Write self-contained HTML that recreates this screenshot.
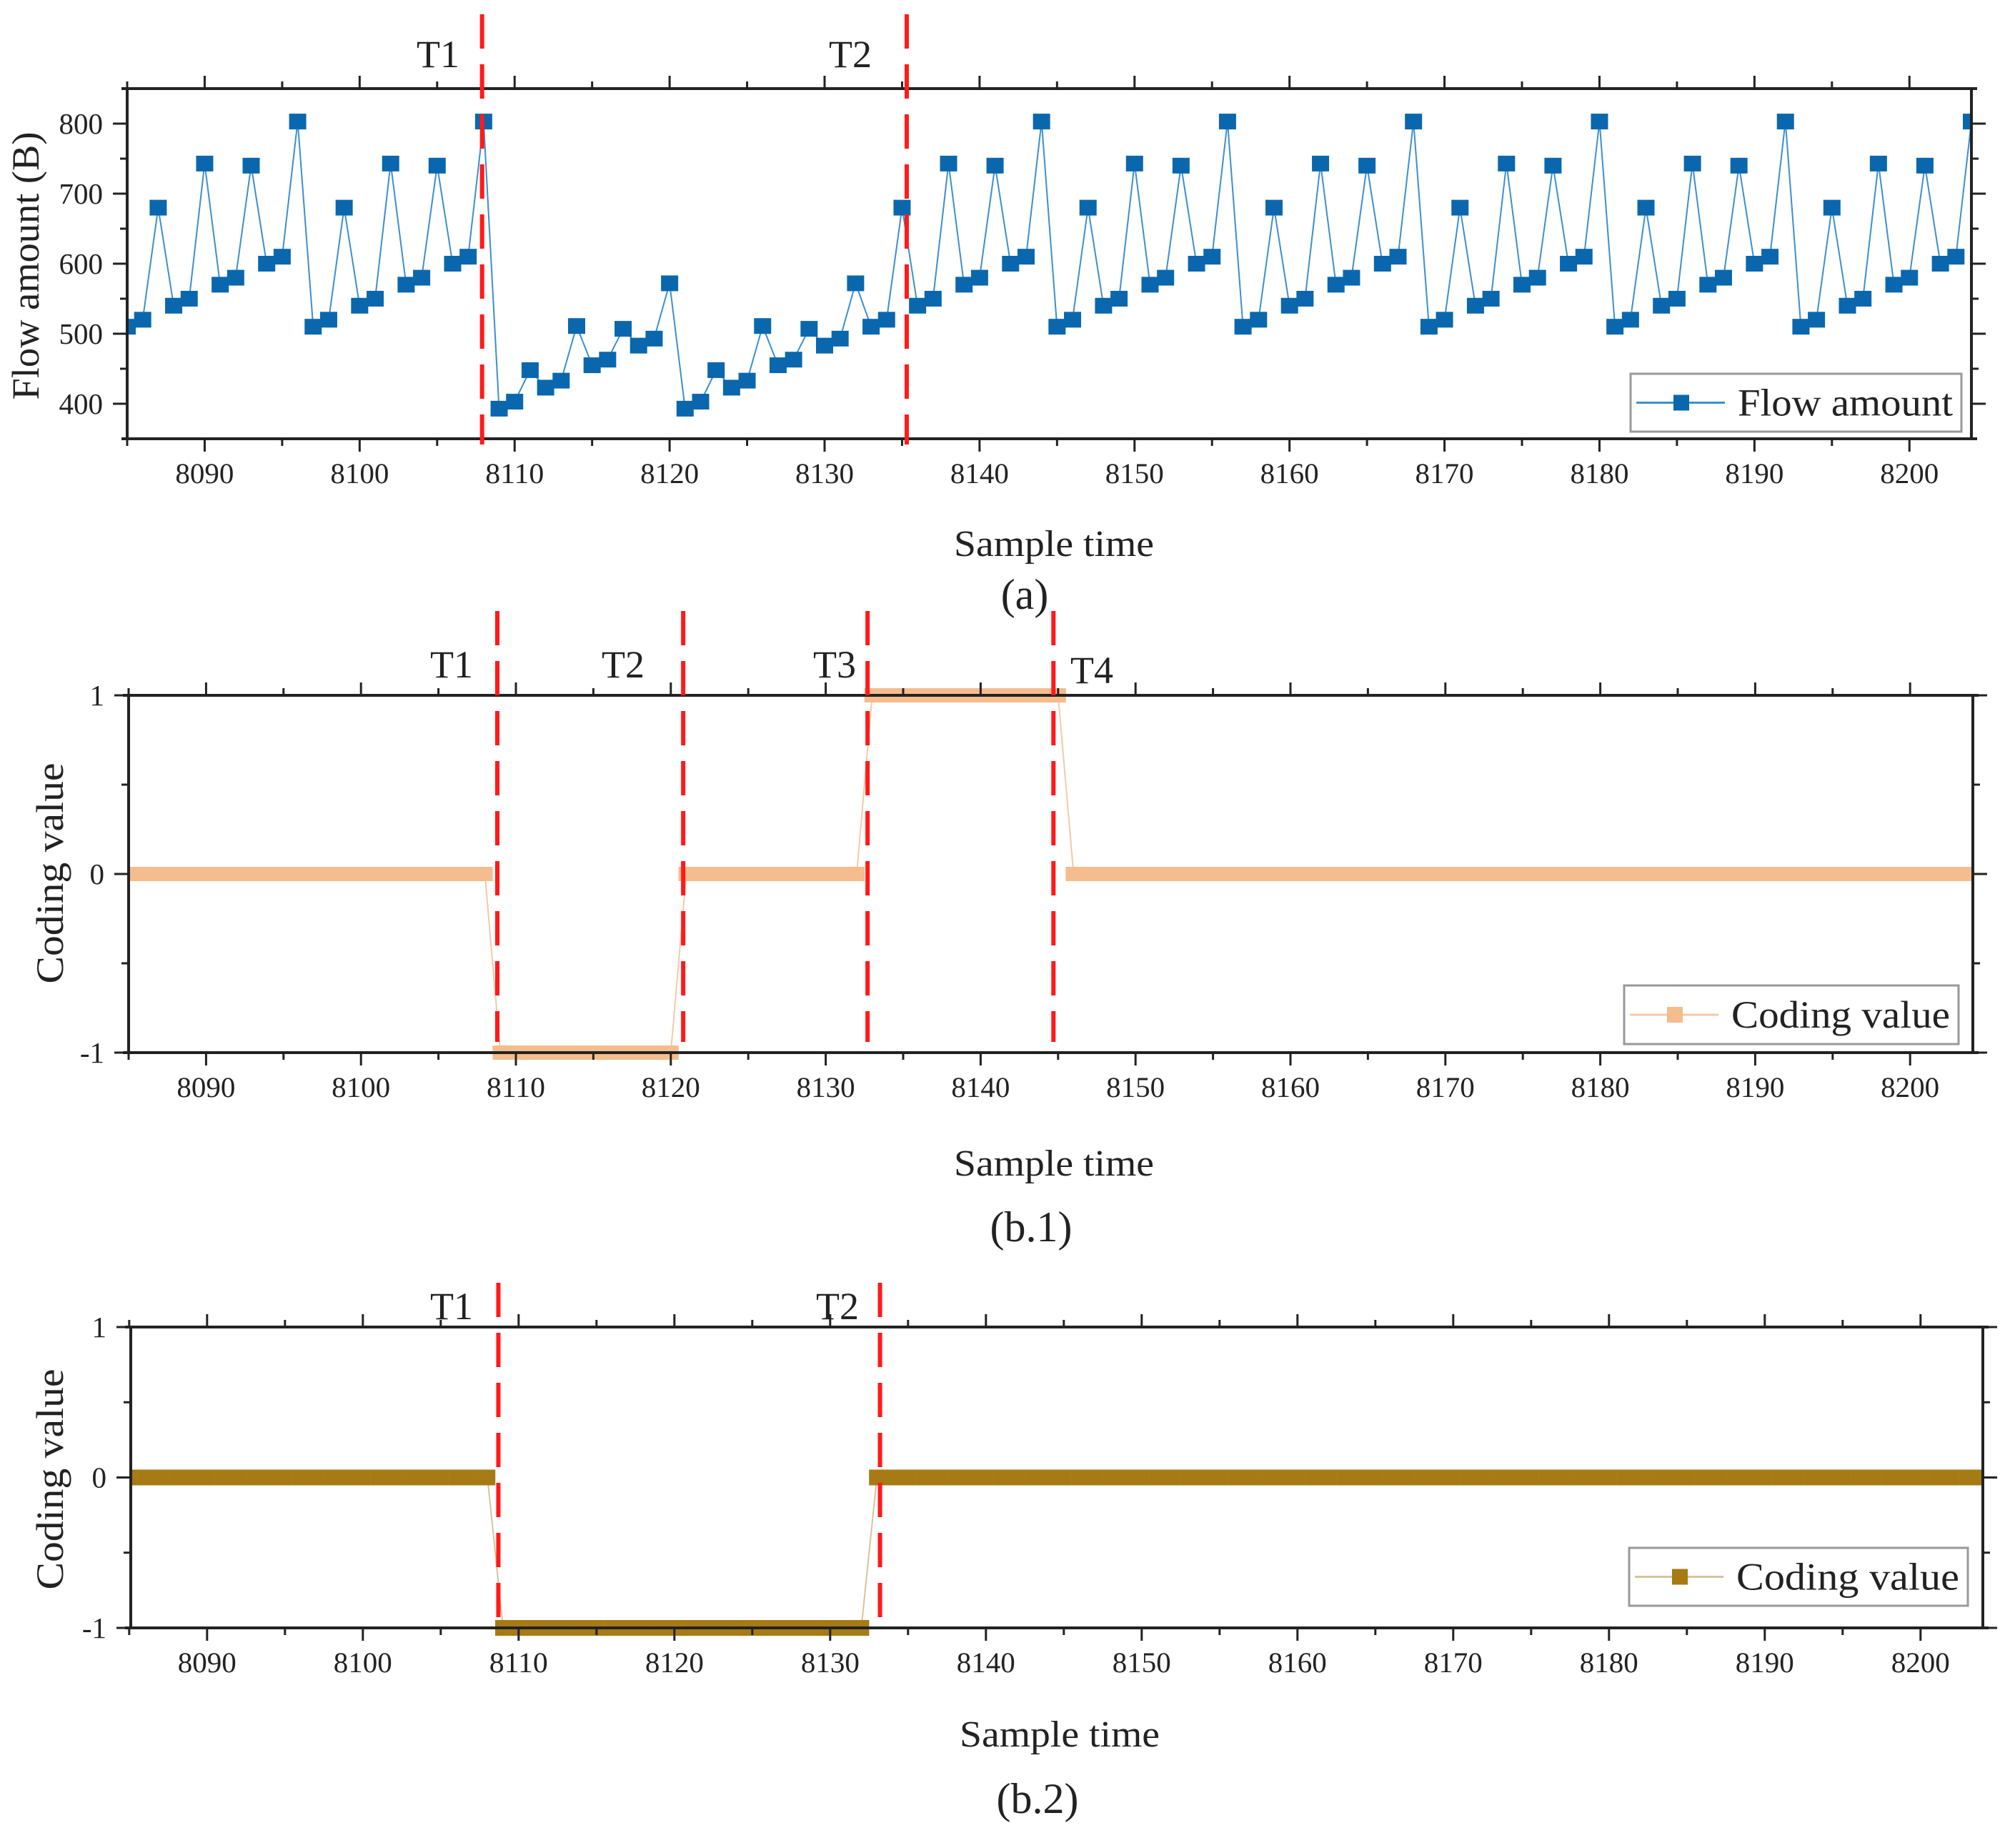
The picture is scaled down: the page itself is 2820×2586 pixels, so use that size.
<!DOCTYPE html>
<html><head><meta charset="utf-8">
<style>
html,body{margin:0;padding:0;background:#fff;}
svg{display:block;}
text{font-family:"Liberation Serif",serif;fill:#222;}
</style></head>
<body>
<svg id="fig" width="2820" height="2586" viewBox="0 0 2820 2586" xmlns="http://www.w3.org/2000/svg"></svg>
<script>
// ---------- data ----------
const xTickValues = [8090,8100,8110,8120,8130,8140,8150,8160,8170,8180,8190,8200];
const flowTime = [];
for (let t = 8085; t <= 8204; t++) flowTime.push(t);
const flowValues = [
510,520,680,540,550,743,570,580,740,600,610,803,
510,520,680,540,550,743,570,580,740,600,610,803,
393,403,448,423,433,511,455,463,507,483,493,572,
393,403,448,423,433,511,455,463,507,483,493,572,
510,520,680,540,550,743,570,580,740,600,610,803,
510,520,680,540,550,743,570,580,740,600,610,803,
510,520,680,540,550,743,570,580,740,600,610,803,
510,520,680,540,550,743,570,580,740,600,610,803,
510,520,680,540,550,743,570,580,740,600,610,803,
510,520,680,540,550,743,570,580,740,600,610,803];
const flowYTicks = [400,500,600,700,800];
const codingYTicks = [-1,0,1];
const coding1Values = [
0,0,0,0,0,0,0,0,0,0,0,0,0,0,0,0,0,0,0,0,0,0,0,0,
-1,-1,-1,-1,-1,-1,-1,-1,-1,-1,-1,-1,
0,0,0,0,0,0,0,0,0,0,0,0,
1,1,1,1,1,1,1,1,1,1,1,1,1,
0,0,0,0,0,0,0,0,0,0,0,0,0,0,0,0,0,0,0,0,0,0,0,0,0,0,0,0,0,0,
0,0,0,0,0,0,0,0,0,0,0,0,0,0,0,0,0,0,0,0,0,0,0,0,0,0,0,0,0];
const coding2Values = [
0,0,0,0,0,0,0,0,0,0,0,0,0,0,0,0,0,0,0,0,0,0,0,0,
-1,-1,-1,-1,-1,-1,-1,-1,-1,-1,-1,-1,-1,-1,-1,-1,-1,-1,-1,-1,-1,-1,-1,-1,
0,0,0,0,0,0,0,0,0,0,0,0,0,0,0,0,0,0,0,0,0,0,0,0,0,0,0,0,0,0,0,0,0,0,0,0,
0,0,0,0,0,0,0,0,0,0,0,0,0,0,0,0,0,0,0,0,0,0,0,0,0,0,0,0,0,0,0,0,0,0,0,0];
const markersA = ["T1","T2"];
const markerTimesA = [8107.9, 8135.3];
const markersB1 = ["T1","T2","T3","T4"];
const markerTimesB1 = [8108.8, 8120.8, 8132.7, 8144.7];
const markersB2 = ["T1","T2"];
const markerTimesB2 = [8108.7, 8133.2];

// ---------- drawing ----------
const NS = "http://www.w3.org/2000/svg";
const svg = document.getElementById("fig");
const defs = document.createElementNS(NS, "defs");
svg.appendChild(defs);
function mk(tag, attrs, parent, txt){
  const e = document.createElementNS(NS, tag);
  for (const k in attrs) e.setAttribute(k, attrs[k]);
  if (txt !== undefined) e.textContent = txt;
  (parent||svg).appendChild(e);
  return e;
}

function panel(cfg){
  const g = mk("g", {});
  
  
  const X = v => cfg.L + (v - cfg.xmin) / (cfg.xmax - cfg.xmin) * (cfg.R - cfg.L);
  const Y = v => cfg.B - (v - cfg.ymin) / (cfg.ymax - cfg.ymin) * (cfg.B - cfg.T);
  const cid = "clip-" + cfg.name;
  const cp = mk("clipPath",{id:cid},defs);
  mk("rect",{x:cfg.L,y:cfg.T-30,width:cfg.R-cfg.L,height:cfg.B-cfg.T+60},cp);
  const sg = mk("g",{"clip-path":`url(#${cid})`},g);
  
  
  const pts = cfg.values.map((v,i)=>X(flowTime[i]).toFixed(1)+","+Y(v).toFixed(1)).join(" ");
  const line = mk("polyline",{points:pts,fill:"none",stroke:cfg.lineColor,"stroke-width":2},sg);
  
  
  cfg.values.forEach((v,i)=>{
    const r = mk("rect",{x:X(flowTime[i])-cfg.mw/2,y:Y(v)-cfg.mh/2,width:cfg.mw,height:cfg.mh,fill:cfg.markColor},sg);
    
    
  });
  const ax = mk("g", {stroke:"#222","stroke-width":4,fill:"none"}, g);
  
  
  mk("line",{x1:cfg.L-8,y1:cfg.T,x2:cfg.R+8,y2:cfg.T},ax);
  mk("line",{x1:cfg.L-8,y1:cfg.B,x2:cfg.R+8,y2:cfg.B},ax);
  mk("line",{x1:cfg.L,y1:cfg.T,x2:cfg.L,y2:cfg.B},ax);
  mk("line",{x1:cfg.R,y1:cfg.T,x2:cfg.R,y2:cfg.B},ax);
  for (let v = 8085; v <= cfg.xmax; v += 5){
    const x = X(v), major = (v % 10 === 0), len = major ? 18 : 10;
    mk("line",{x1:x,y1:cfg.B,x2:x,y2:cfg.B+len,stroke:"#222","stroke-width":3},g);
    mk("line",{x1:x,y1:cfg.T,x2:x,y2:cfg.T-len,stroke:"#222","stroke-width":3},g);
  }
  xTickValues.forEach(v=>{
    const t = mk("text",{x:X(v),y:cfg.B+62,"text-anchor":"middle","font-size":40,textLength:82,lengthAdjust:"spacingAndGlyphs"},g,String(v));
    
    
  });
  const yt = cfg.yTicks;
  const step = yt[1]-yt[0];
  for (let v = yt[0]; v <= yt[yt.length-1] + 1e-9; v += step/2){
    const y = Y(v);
    const major = yt.some(t=>Math.abs(t-v)<1e-9);
    const len = major ? 20 : 10;
    mk("line",{x1:cfg.L,y1:y,x2:cfg.L-len,y2:y,stroke:"#222","stroke-width":3},g);
    mk("line",{x1:cfg.R,y1:y,x2:cfg.R+len,y2:y,stroke:"#222","stroke-width":3},g);
  }
  yt.forEach(v=>{
    const t = mk("text",{x:cfg.L-34,y:Y(v)+14,"text-anchor":"end","font-size":41},g,String(v));
    
    
  });
  cfg.evTimes.forEach((tv,i)=>{
    const x = X(tv);
    const l = mk("line",{x1:x,y1:cfg.evTop,x2:x,y2:cfg.evBot,stroke:"#ff1a1a","stroke-width":6,"stroke-dasharray":"48 22"},g);
    
    
    const lx = cfg.evLabelPos[i];
    const t = mk("text",{x:lx[0],y:lx[1],"text-anchor":lx[2]||"middle","font-size":54},g,cfg.evLabels[i]);
    
    
  });
  const lg = mk("g",{},g);
  
  
  const [lx0,ly0,lx1,ly1] = cfg.legend;
  mk("rect",{x:lx0,y:ly0,width:lx1-lx0,height:ly1-ly0,fill:"#fff",stroke:"#999","stroke-width":3},lg);
  const cy = (ly0+ly1)/2;
  mk("line",{x1:lx0+8,y1:cy,x2:lx0+132,y2:cy,stroke:cfg.lineColor,"stroke-width":3},lg);
  mk("rect",{x:lx0+60,y:cy-11,width:22,height:22,fill:cfg.markColor},lg);
  const lt = mk("text",{x:lx0+150,y:cy+18,"font-size":54,textLength:lx1-lx0-162,lengthAdjust:"spacingAndGlyphs"},lg,cfg.legendText);
  
  
  const yt2 = mk("text",{x:0,y:0,"text-anchor":"middle","font-size":54,transform:`translate(${cfg.yTitleX},${cfg.yTitleY}) rotate(-90)`,textLength:cfg.yTitleLen,lengthAdjust:"spacingAndGlyphs"},g,cfg.yTitle);
  
  
  const xt = mk("text",{x:cfg.xTitlePos[0],y:cfg.xTitlePos[1],"text-anchor":"middle","font-size":52,textLength:280,lengthAdjust:"spacingAndGlyphs"},g,"Sample time");
  
  
  const cap = mk("text",{x:cfg.capPos[0],y:cfg.capPos[1],"text-anchor":"middle","font-size":60},g,cfg.caption);
  
  
}

panel({name:"panel-a-flow", L:178,R:2759,T:124,B:614,xmin:8085,xmax:8204,ymin:350,ymax:850,
  yTicks:flowYTicks, values:flowValues, lineColor:"#3b8fd0", markColor:"#0a67ad", mw:24, mh:22,
  evTimes:markerTimesA, evLabels:markersA, evTop:20, evBot:622, evLabelPos:[[613,94],[1190,94]],
  legend:[2282,523,2745,604], legendText:"Flow amount",
  yTitle:"Flow amount (B)", yTitleX:54, yTitleY:372, yTitleLen:375,
  xTitlePos:[1475,778], caption:"(a)", capPos:[1434,852]});

panel({name:"panel-b1-coding", L:180,R:2761,T:973,B:1473,xmin:8085,xmax:8204.05,ymin:-1,ymax:1,
  yTicks:codingYTicks, values:coding1Values, lineColor:"#f6c9a4", markColor:"#f5bc8e", mw:22, mh:20,
  evTimes:markerTimesB1, evLabels:markersB1, evTop:855, evBot:1458,
  evLabelPos:[[632,948],[872,948],[1168,948],[1498,956,"start"]],
  legend:[2273,1379,2741,1461], legendText:"Coding value",
  yTitle:"Coding value", yTitleX:88, yTitleY:1222, yTitleLen:309,
  xTitlePos:[1475,1645], caption:"(b.1)", capPos:[1443,1737]});

panel({name:"panel-b2-coding", L:183,R:2775,T:1857,B:2278,xmin:8085.1,xmax:8204,ymin:-1,ymax:1,
  yTicks:codingYTicks, values:coding2Values, lineColor:"#d9c39a", markColor:"#a67a14", mw:22, mh:22,
  evTimes:markerTimesB2, evLabels:markersB2, evTop:1795, evBot:2275,
  evLabelPos:[[632,1846],[1172,1846]],
  legend:[2280,2166,2754,2247], legendText:"Coding value",
  yTitle:"Coding value", yTitleX:88, yTitleY:2070, yTitleLen:309,
  xTitlePos:[1483,2444], caption:"(b.2)", capPos:[1452,2537]});
</script>
</body></html>
